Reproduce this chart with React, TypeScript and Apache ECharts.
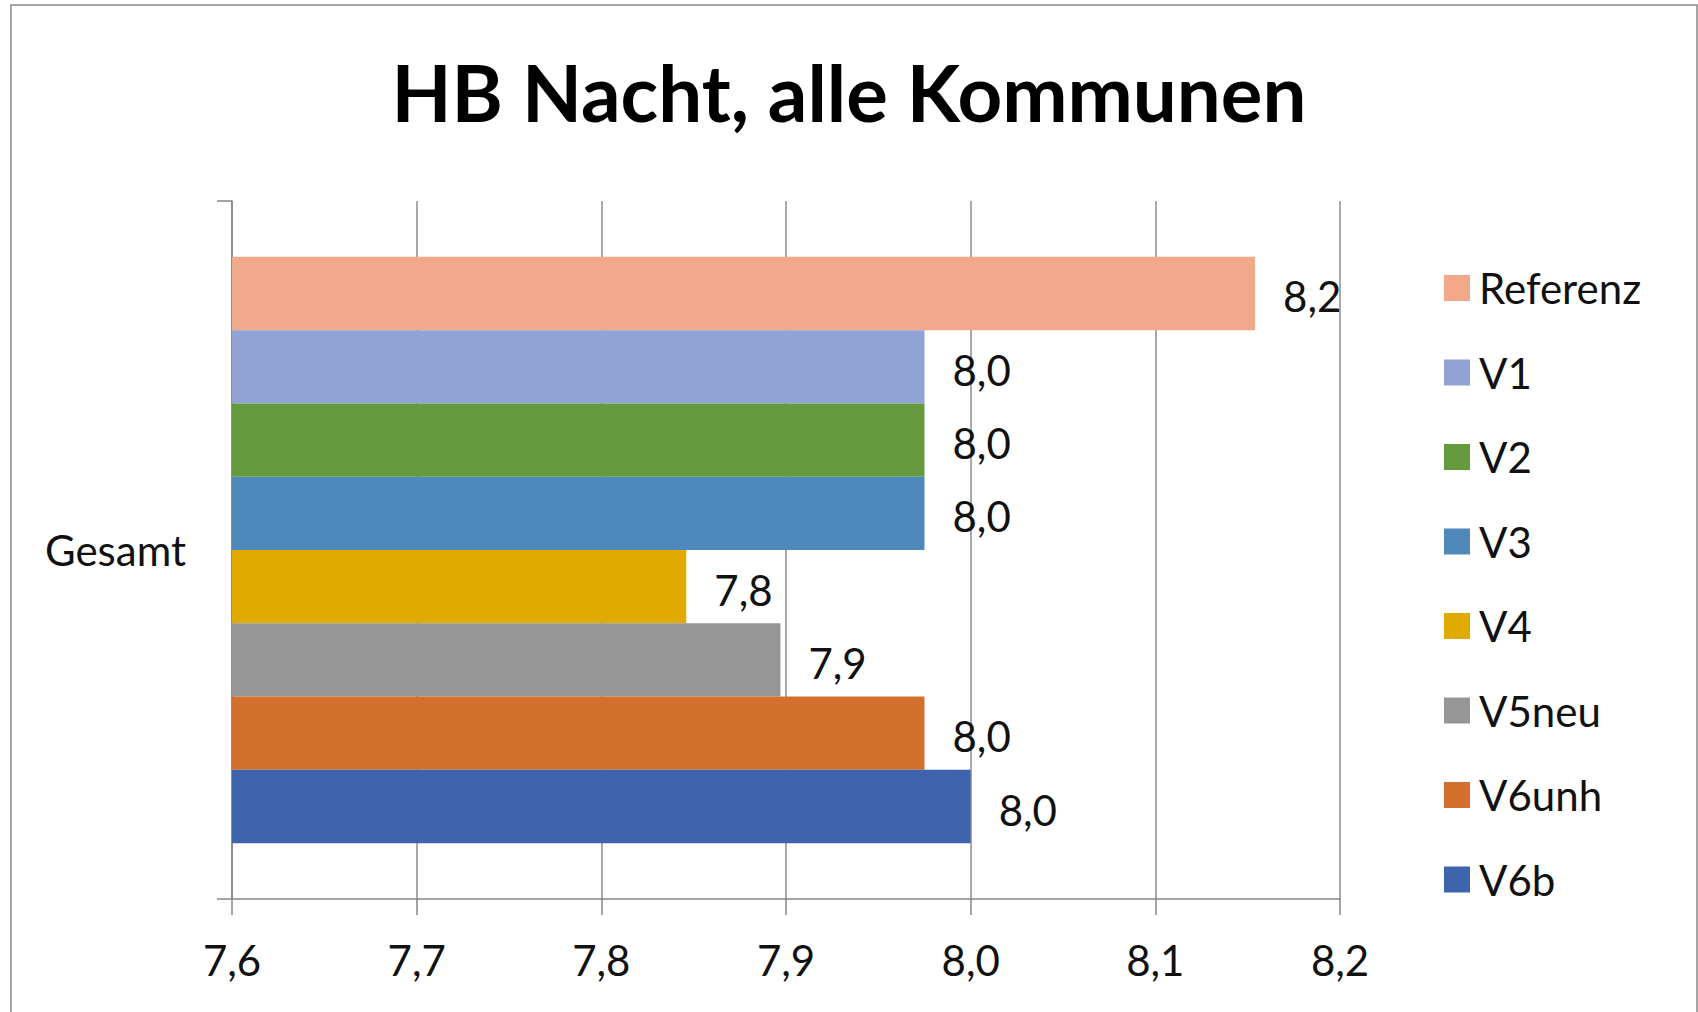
import React, { useEffect, useRef } from "react";
import * as echarts from "echarts";

const categories = ["Gesamt"];
const seriesNames = ["Referenz", "V1", "V2", "V3", "V4", "V5neu", "V6unh", "V6b"];
const seriesValues = [8.154, 7.975, 7.975, 7.975, 7.846, 7.897, 7.975, 8.0];
const seriesColors = ["#F1A88B", "#91A3D5", "#659A3F", "#4F89BC", "#E1AA00", "#969696", "#D3702E", "#3D64AD"];
const title = "HB Nacht, alle Kommunen";
const xMin = 7.6;
const xMax = 8.2;
const xStep = 0.1;

const fmt = (v: number) => v.toFixed(1).replace(".", ",");

export default function App() {
  const ref = useRef<HTMLDivElement>(null);
  useEffect(() => {
    document.body.style.margin = "0";
    if (!ref.current) return;
    const chart = echarts.init(ref.current, null, { renderer: "svg" });
    const font = "Lato";
    chart.setOption({
      animation: false,
      backgroundColor: "#fff",
      title: {
        text: title,
        left: "center",
        top: 48,
        textStyle: { fontFamily: font, fontWeight: "bold", fontSize: 78, color: "#000" },
      },
      graphic: [
        {
          type: "rect",
          shape: { x: 11, y: 5, width: 1686, height: 1040 },
          style: { fill: "none", stroke: "#888", lineWidth: 1.5 },
          silent: true,
        },
      ],
      legend: {
        orient: "vertical",
        left: 1439,
        top: 259,
        itemWidth: 26,
        itemHeight: 26,
        itemGap: 36.5,
        icon: "rect",
        data: seriesNames,
        textStyle: { fontFamily: font, fontSize: 42, color: "#111", lineHeight: 48, padding: [0, 0, 0, 4] },
      },
      grid: { left: 232, right: 358, top: 201, bottom: 113, containLabel: false },
      xAxis: {
        type: "value",
        min: xMin,
        max: xMax,
        interval: xStep,
        axisLine: { show: true, lineStyle: { color: "#868686", width: 1.5 } },
        axisTick: { show: true, length: 16, lineStyle: { color: "#868686", width: 1.5 } },
        splitLine: { show: true, lineStyle: { color: "#8c8c8c", width: 1.5 } },
        axisLabel: { formatter: (v: number) => fmt(v), fontFamily: font, fontSize: 42, color: "#111", margin: 40 },
      },
      yAxis: {
        type: "category",
        data: categories,
        inverse: false,
        axisLine: { show: true, lineStyle: { color: "#868686", width: 1.5 } },
        axisTick: { show: true, length: 15, lineStyle: { color: "#868686", width: 1.5 } },
        axisLabel: { fontFamily: font, fontSize: 42, color: "#111", margin: 46 },
      },
      series: seriesNames.map((name, i) => ({
        name,
        type: "bar",
        data: [seriesValues[i]],
        itemStyle: { color: seriesColors[i] },
        barGap: "0%",
        barCategoryGap: "16%",
        label: {
          show: true,
          position: "right",
          distance: 28,
          offset: [0, 3],
          formatter: (p: any) => fmt(p.value),
          fontFamily: font,
          fontSize: 42,
          color: "#111",
        },
      })),
    });
    return () => chart.dispose();
  }, []);
  return <div ref={ref} style={{ width: 1698, height: 1012 }} />;
}
